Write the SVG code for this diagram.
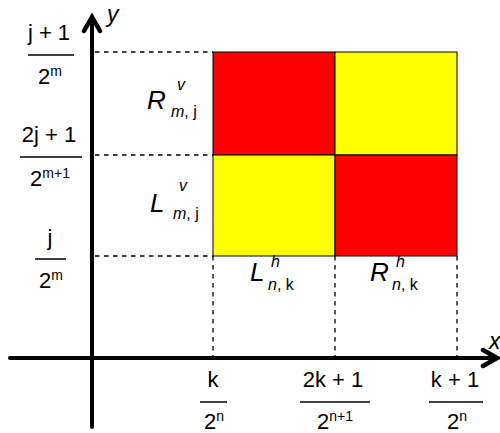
<svg xmlns="http://www.w3.org/2000/svg" width="500" height="433" viewBox="0 0 500 433">
<style>
text{font-family:"Liberation Sans",Arial,sans-serif;fill:#000}
.n{font-size:22px;text-anchor:middle}
.sup{font-size:14px}
.it{font-style:italic}
.bar{stroke:#000;stroke-width:1.5}
.dash{stroke:#000;stroke-width:1.3;stroke-dasharray:4.5,4.5;fill:none}
.axis{stroke:#000;stroke-width:4;fill:none;stroke-linecap:round}
.head{stroke:#000;stroke-width:4.5;fill:none;stroke-linecap:round;stroke-linejoin:miter}
.cell{stroke:#000;stroke-width:1}
.red{fill:#ff0000}
.yel{fill:#ffff00}
.big{font-size:26px;font-style:italic}
.sub{font-size:16px}
</style>
<rect width="500" height="433" fill="#fff"/>
<g id="cells">
<rect id="cell-tl" class="cell red" x="213" y="52" width="122" height="103"/>
<rect id="cell-tr" class="cell yel" x="335" y="52" width="122" height="103"/>
<rect id="cell-bl" class="cell yel" x="213" y="155" width="122" height="101"/>
<rect id="cell-br" class="cell red" x="335" y="155" width="122" height="101"/>
</g>
<g id="connectors">
<path class="dash" d="M95 52H213M95 155H213M95 256H213M213 256V358M335 256V358M457 256V358"/>
<path class="axis" d="M92 427V18M10 358H495"/>
<path class="head" d="M84 31L92 17L100 31M483 350L497 358L483 366"/>
</g>
<g id="axis-labels">
<text class="it" x="107" y="22" style="font-size:23px">y</text>
<text class="it" x="489" y="349" style="font-size:23px">x</text>
</g>
<g id="y-ticks">
<g id="ty1">
<text class="n" x="49" y="40">j + 1</text>
<line class="bar" x1="28" y1="55" x2="74" y2="55"/>
<text class="n" x="50" y="84">2<tspan class="sup" dy="-8">m</tspan></text>
</g>
<g id="ty2">
<text class="n" x="49" y="142">2j + 1</text>
<line class="bar" x1="20" y1="157" x2="82" y2="157"/>
<text class="n" x="50" y="186">2<tspan class="sup" dy="-8">m+1</tspan></text>
</g>
<g id="ty3">
<text class="n" x="50" y="245">j</text>
<line class="bar" x1="35" y1="259" x2="66" y2="259"/>
<text class="n" x="51" y="288">2<tspan class="sup" dy="-8">m</tspan></text>
</g>
</g>
<g id="x-ticks">
<g id="tx1">
<text class="n" x="213" y="387">k</text>
<line class="bar" x1="200" y1="402" x2="227" y2="402"/>
<text class="n" x="214" y="429">2<tspan class="sup" dy="-8">n</tspan></text>
</g>
<g id="tx2">
<text class="n" x="333" y="387">2k + 1</text>
<line class="bar" x1="300" y1="402" x2="370" y2="402"/>
<text class="n" x="335" y="429">2<tspan class="sup" dy="-8">n+1</tspan></text>
</g>
<g id="tx3">
<text class="n" x="455" y="387">k + 1</text>
<line class="bar" x1="429" y1="402" x2="483" y2="402"/>
<text class="n" x="457" y="429">2<tspan class="sup" dy="-8">n</tspan></text>
</g>
</g>
<g id="labels">
<g id="Rv">
<text class="big" x="147" y="109">R</text>
<text class="it sub" x="177" y="90">v</text>
<text class="sub" x="171" y="117"><tspan class="it">m</tspan>, j</text>
</g>
<g id="Lv">
<text class="big" x="150" y="212">L</text>
<text class="it sub" x="179" y="191">v</text>
<text class="sub" x="173" y="219"><tspan class="it">m</tspan>, j</text>
</g>
<g id="Lh">
<text class="big" x="250" y="281">L</text>
<text class="it sub" x="271" y="267">h</text>
<text class="sub" x="268" y="290"><tspan class="it">n</tspan>, k</text>
</g>
<g id="Rh">
<text class="big" x="370" y="281">R</text>
<text class="it sub" x="396" y="267">h</text>
<text class="sub" x="392" y="290"><tspan class="it">n</tspan>, k</text>
</g>
</g>
</svg>
